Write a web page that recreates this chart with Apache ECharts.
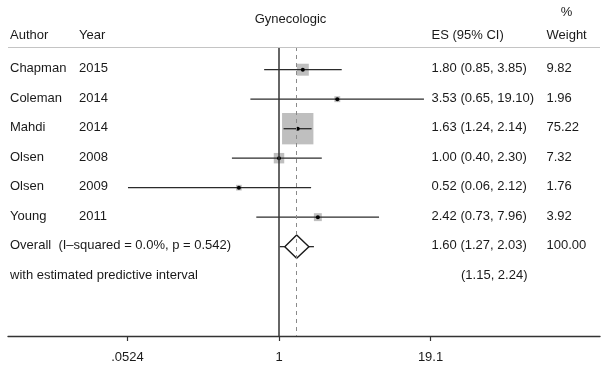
<!DOCTYPE html>
<html><head><meta charset="utf-8">
<script src="https://cdn.jsdelivr.net/npm/echarts@6/dist/echarts.min.js"></script>
<style>html,body{margin:0;padding:0;background:#fff}#c{width:610px;height:369px}</style>
</head><body><div id="c"></div>
<script>
// ---- data ----
const authors = ['Chapman', 'Coleman', 'Mahdi', 'Olsen', 'Olsen', 'Young'];
const years = ['2015', '2014', '2014', '2008', '2009', '2011'];
// marker positions as they sit on the pictured x axis
const esPlot = [1.59, 3.11, 1.44, 1.00, 0.458, 2.13];
const loPlot = [0.749, 0.573, 1.093, 0.40, 0.0529, 0.643];
const hiPlot = [3.39, 16.8, 1.886, 2.30, 1.868, 7.01];
const weights = [9.82, 1.96, 75.22, 7.32, 1.76, 3.92];
const esText = ['1.80 (0.85, 3.85)', '3.53 (0.65, 19.10)', '1.63 (1.24, 2.14)',
                '1.00 (0.40, 2.30)', '0.52 (0.06, 2.12)', '2.42 (0.73, 7.96)'];
const weightText = ['9.82', '1.96', '75.22', '7.32', '1.76', '3.92'];
const overallLabel = 'Overall  (I\u2013squared = 0.0%, p = 0.542)';
const overallPlot = [1.41, 1.119, 1.789];   // es, lo, hi
const overallText = '1.60 (1.27, 2.03)';
const overallWeight = '100.00';
const predLabel = 'with estimated predictive interval';
const predPlot = [1.013, 1.974];            // lo, hi
const predText = '(1.15, 2.24)';
const tickValues = [0.0524, 1, 19.1];
const tickLabels = ['.0524', '1', '19.1'];
const headers = { author: 'Author', year: 'Year', title: 'Gynecologic', es: 'ES (95% CI)', pct: '%', weight: 'Weight' };

// ---- chart ----
const FONT = '"Liberation Sans", Arial, Helvetica, sans-serif';
const FS = 13;
const TXT = '#1a1a1a';
const L = Math.log10;
const COL = { name: 10, year: 79, es: 431.5, pred: 461, w: 546.5 };
const DY = -1;

const chart = echarts.init(document.getElementById('c'), null, { renderer: 'canvas' });

function txt(x, y, s, align) {
  return { type: 'text', x: x, y: y, style: { text: s, font: FS + 'px ' + FONT, fill: TXT, align: align || 'left', verticalAlign: 'middle' } };
}

const rowsText = authors.map((a, i) => ({ name: a, year: years[i], es: esText[i], w: weightText[i] }));
rowsText.push({ name: overallLabel, year: '', es: overallText, w: overallWeight });
rowsText.push({ name: predLabel, year: '', es: '', w: '', pred: predText });

chart.setOption({
  animation: false,
  grid: { left: 8, right: 10, top: 47, bottom: 33 },
  xAxis: {
    type: 'value', min: -2.2908, max: 2.7135,
    splitLine: { show: false },
    axisLine: { onZero: false, lineStyle: { color: '#333', width: 1.4 } },
    axisTick: { customValues: tickValues.map(L), length: 5, lineStyle: { color: '#333', width: 1.2 } },
    axisLabel: {
      customValues: tickValues.map(L), margin: 15, fontSize: FS, fontFamily: FONT, color: TXT,
      formatter: v => {
        let best = 0;
        tickValues.forEach((t, k) => { if (Math.abs(L(t) - v) < Math.abs(L(tickValues[best]) - v)) best = k; });
        return tickLabels[best];
      }
    }
  },
  yAxis: { type: 'value', inverse: true, min: -0.77, max: 9.03, show: false },
  graphic: [
    txt(COL.name, 35, headers.author),
    txt(COL.year, 35, headers.year),
    txt(290.5, 19, headers.title, 'center'),
    txt(COL.es, 35, headers.es),
    txt(COL.w + 20, 12.5, headers.pct, 'center'),
    txt(COL.w, 35, headers.weight)
  ],
  series: [
    {
      type: 'custom', name: 'studies',
      data: authors.map((a, i) => [i, L(loPlot[i]), L(esPlot[i]), L(hiPlot[i]), weights[i]]),
      renderItem: (params, api) => {
        const row = api.value(0);
        const lo = api.coord([api.value(1), row]);
        const es = api.coord([api.value(2), row]);
        const hi = api.coord([api.value(3), row]);
        const s = 3.5 * Math.sqrt(api.value(4)) + 1;
        return {
          type: 'group', children: [
            { type: 'rect', shape: { x: es[0] - s / 2, y: es[1] - s / 2, width: s, height: s }, style: { fill: '#bfbfbf' } },
            { type: 'line', shape: { x1: lo[0], y1: lo[1], x2: hi[0], y2: hi[1] }, style: { stroke: '#2b2b2b', lineWidth: 1.3 } },
            { type: 'circle', shape: { cx: es[0], cy: es[1], r: 2 }, style: { fill: '#000' } }
          ]
        };
      },
      markLine: {
        silent: true, symbol: 'none', label: { show: false },
        data: [
          { xAxis: 0, lineStyle: { color: '#333', width: 1.5, type: 'solid' } },
          { xAxis: L(overallPlot[0]), lineStyle: { color: '#8a8a8a', width: 1, type: [4, 4] } },
          { yAxis: -0.77, lineStyle: { color: '#c4c4c4', width: 1, type: 'solid' } }
        ]
      }
    },
    {
      type: 'custom', name: 'overall',
      data: [[6, L(overallPlot[1]), L(overallPlot[0]), L(overallPlot[2]), L(predPlot[0]), L(predPlot[1])]],
      renderItem: (params, api) => {
        const row = api.value(0);
        const lo = api.coord([api.value(1), row]);
        const es = api.coord([api.value(2), row]);
        const hi = api.coord([api.value(3), row]);
        const plo = api.coord([api.value(4), row]);
        const phi = api.coord([api.value(5), row]);
        const h = 11.7;
        return {
          type: 'group', children: [
            { type: 'line', shape: { x1: plo[0], y1: plo[1], x2: lo[0], y2: lo[1] }, style: { stroke: '#2b2b2b', lineWidth: 1.3 } },
            { type: 'line', shape: { x1: hi[0], y1: hi[1], x2: phi[0], y2: phi[1] }, style: { stroke: '#2b2b2b', lineWidth: 1.3 } },
            { type: 'polygon', shape: { points: [[lo[0], lo[1]], [es[0], es[1] - h], [hi[0], hi[1]], [es[0], es[1] + h]] },
              style: { fill: '#fff', stroke: '#1a1a1a', lineWidth: 1.4 } }
          ]
        };
      }
    },
    {
      type: 'custom', name: 'text',
      data: rowsText.map((r, i) => [0, i]),
      renderItem: (params, api) => {
        const i = params.dataIndex;
        const y = api.coord([0, api.value(1)])[1] + DY;
        const r = rowsText[i];
        const ch = [txt(COL.name, y, r.name)];
        if (r.year) ch.push(txt(COL.year, y, r.year));
        if (r.es) ch.push(txt(COL.es, y, r.es));
        if (r.pred) ch.push(txt(COL.pred, y, r.pred));
        if (r.w) ch.push(txt(COL.w, y, r.w));
        return { type: 'group', children: ch };
      }
    }
  ]
});
</script>
</body></html>
